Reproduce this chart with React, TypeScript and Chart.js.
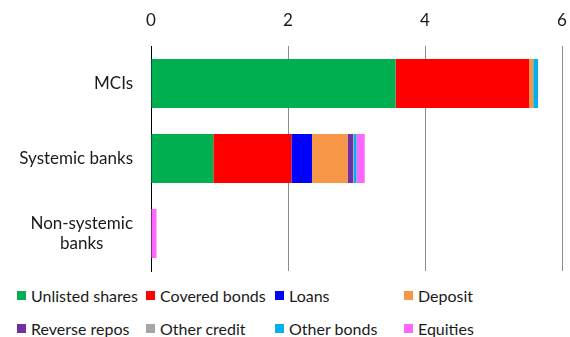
import React, { useEffect, useRef } from "react";
import { Chart, registerables } from "chart.js";

Chart.register(...registerables);

const categories: string[][] = [["MCIs"], ["Systemic banks"], ["Non-systemic", "banks"]];
const xTicks = [0, 2, 4, 6];

const seriesNames = [
  "Unlisted shares",
  "Covered bonds",
  "Loans",
  "Deposit",
  "Reverse repos",
  "Other credit",
  "Other bonds",
  "Equities",
];
const seriesColors = ["#00B050", "#FF0000", "#0000FF", "#F79646", "#7030A0", "#A6A6A6", "#00B0F0", "#FF66FF"];

const unlistedShares = [3.57, 0.91, 0];
const coveredBonds = [1.95, 1.14, 0];
const loans = [0, 0.3, 0];
const deposit = [0.06, 0.52, 0];
const reverseRepos = [0, 0.08, 0];
const otherCredit = [0, 0.01, 0];
const otherBonds = [0.07, 0.04, 0];
const equities = [0, 0.12, 0.08];

const seriesValues = [unlistedShares, coveredBonds, loans, deposit, reverseRepos, otherCredit, otherBonds, equities];

const FONT = "Lato, 'Noto Sans', sans-serif";
const AXIS_SIZE = 17;
const LEGEND_SIZE = 16;

const yLabelPlugin = {
  id: "yLabels",
  afterDraw(chart: any) {
    const scale = chart.scales.y;
    const ctx = chart.ctx;
    ctx.save();
    ctx.font = `${AXIS_SIZE}px ${FONT}`;
    ctx.fillStyle = "#1a1a1a";
    ctx.textAlign = "center";
    ctx.textBaseline = "middle";
    const right = scale.right - 18;
    const lh = AXIS_SIZE * 1.2;
    categories.forEach((lines, i) => {
      const y = scale.getPixelForTick(i);
      const widest = Math.max(...lines.map((l) => ctx.measureText(l).width));
      const cx = right - widest / 2;
      const y0 = y - ((lines.length - 1) * lh) / 2;
      lines.forEach((l, j) => ctx.fillText(l, cx, y0 + j * lh));
    });
    ctx.restore();
  },
};

export default function App() {
  const ref = useRef<HTMLCanvasElement>(null);
  useEffect(() => {
    document.body.style.margin = "0";
    const chart = new Chart(ref.current!, {
      type: "bar",
      data: {
        labels: categories,
        datasets: seriesNames.map((n, i) => ({
          label: n,
          data: seriesValues[i],
          backgroundColor: seriesColors[i],
          borderWidth: 0,
          categoryPercentage: 1,
          barPercentage: 0.653,
        })),
      },
      options: {
        indexAxis: "y",
        animation: false,
        responsive: false,
        layout: { padding: { top: 9, right: 8, bottom: 9, left: 0 } },
        plugins: { legend: { display: false }, tooltip: { enabled: false } },
        scales: {
          x: {
            position: "top",
            stacked: true,
            min: 0,
            max: 6,
            afterBuildTicks: (s: any) => {
              s.ticks = xTicks.map((v) => ({ value: v }));
            },
            afterFit: (s: any) => {
              s.height = 37;
              s.paddingLeft = 0;
              s.paddingRight = 0;
            },
            ticks: {
              padding: 15,
              color: "#1a1a1a",
              font: { family: FONT, size: AXIS_SIZE },
            },
            grid: {
              drawTicks: false,
              color: (c: any) => (c.tick && c.tick.value === 0 ? "#000000" : "#8c8c8c"),
              lineWidth: 1,
            },
            border: { display: false },
          },
          y: {
            stacked: true,
            ticks: { display: false },
            afterFit: (s: any) => {
              s.width = 151;
            },
            grid: { display: false },
            border: { display: true, color: "#000000", width: 1 },
          },
        },
      },
      plugins: [yLabelPlugin],
    });
    return () => chart.destroy();
  }, []);

  const colLeft = [17, 146, 275, 404];
  const rowTop = [285, 318];

  return (
    <div style={{ position: "relative", width: 570, height: 337, fontFamily: FONT, background: "#fff" }}>
      <canvas ref={ref} width={570} height={280} style={{ display: "block" }} />
      {seriesNames.map((n, i) => (
        <div
          key={n}
          style={{
            position: "absolute",
            left: colLeft[i % 4],
            top: rowTop[Math.floor(i / 4)],
            height: 20,
            display: "flex",
            alignItems: "center",
            fontSize: LEGEND_SIZE,
            color: "#1a1a1a",
            whiteSpace: "nowrap",
          }}
        >
          <span style={{ display: "inline-block", width: 9, height: 9, background: seriesColors[i], marginRight: 5 }} />
          {n}
        </div>
      ))}
    </div>
  );
}
